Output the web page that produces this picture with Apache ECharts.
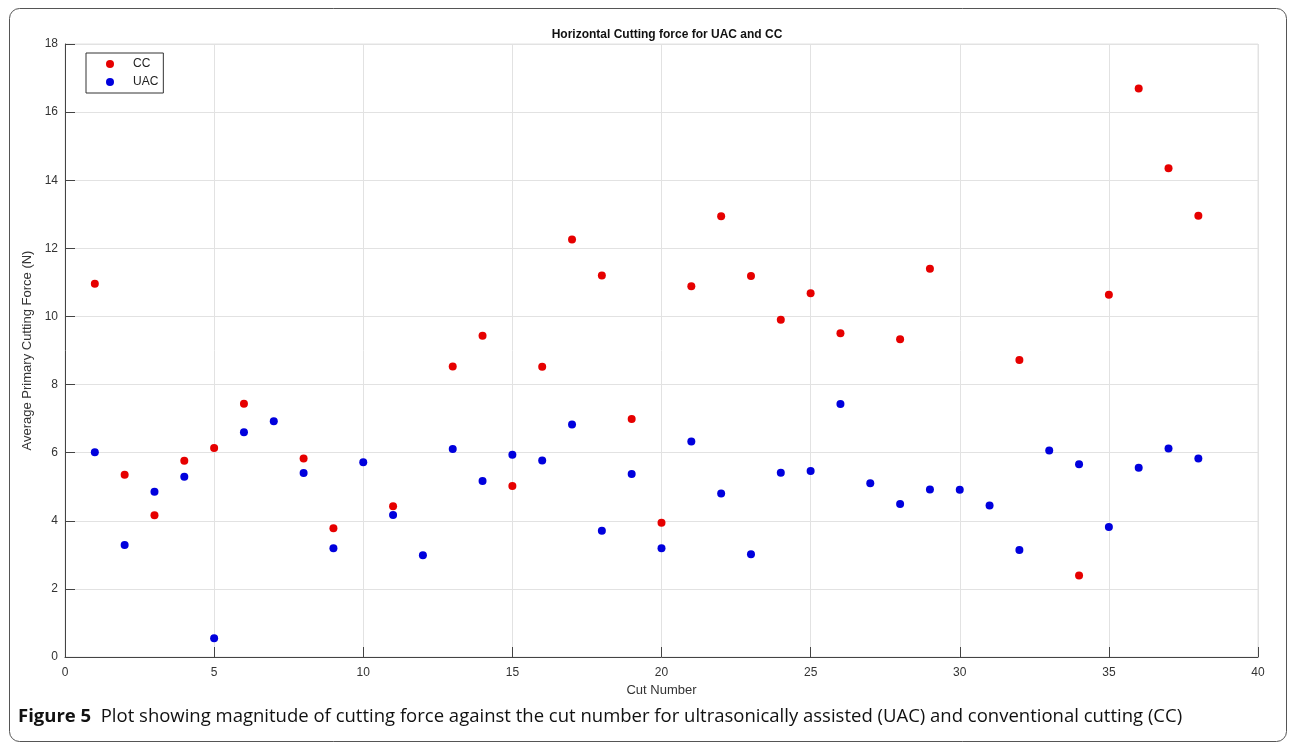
<!DOCTYPE html>
<html>
<head>
<meta charset="utf-8">
<script src="https://cdn.jsdelivr.net/npm/echarts@6/dist/echarts.min.js"></script>
<style>
  html, body { margin: 0; padding: 0; background: #fff; }
  #main { width: 1290px; height: 746px; }
</style>
</head>
<body>
<div id="main"></div>
<script>
// cut numbers and forces
var ccCuts = [1, 2, 3, 4, 5, 6, 8, 9, 11, 13, 14, 15, 16, 17, 18, 19, 20, 21, 22, 23, 24, 25, 26, 28, 29, 32, 34, 35, 36, 37, 38]
var ccForce = [10.96, 5.35, 4.16, 5.76, 6.14, 7.44, 5.83, 3.78, 4.43, 8.53, 9.43, 5.02, 8.52, 12.26, 11.20, 6.99, 3.94, 10.89, 12.94, 11.19, 9.90, 10.68, 9.51, 9.33, 11.40, 8.72, 2.39, 10.64, 16.69, 14.35, 12.96]
var uacCuts = [1, 2, 3, 4, 5, 6, 7, 8, 9, 10, 11, 12, 13, 14, 15, 16, 17, 18, 19, 20, 21, 22, 23, 24, 25, 26, 27, 28, 29, 30, 31, 32, 33, 34, 35, 36, 37, 38]
var uacForce = [6.01, 3.29, 4.85, 5.29, 0.55, 6.60, 6.92, 5.40, 3.19, 5.72, 4.17, 2.99, 6.11, 5.17, 5.94, 5.77, 6.83, 3.71, 5.37, 3.19, 6.33, 4.80, 3.02, 5.41, 5.46, 7.43, 5.10, 4.49, 4.92, 4.91, 4.45, 3.14, 6.06, 5.66, 3.82, 5.56, 6.12, 5.83]

var chartTitle = 'Horizontal Cutting force for UAC and CC'
var captionText = 'Plot showing magnitude of cutting force against the cut number for ultrasonically assisted (UAC) and conventional cutting (CC)'

function pairs (xs, ys) {
  return xs.map(function (x, i) {
    return [x, ys[i]]
  })
}

var myChart = echarts.init(document.getElementById('main'))
var axisFont = 'Liberation Sans, Arial, sans-serif'

var option = {
  animation: false,
  backgroundColor: '#fff',
  title: {
    text: chartTitle,
    left: 662,
    top: 24,
    textAlign: 'center',
    textStyle: { fontFamily: axisFont, fontSize: 12, fontWeight: 'bold', color: '#111' }
  },
  legend: {
    left: 86,
    top: 53,
    orient: 'vertical',
    itemWidth: 8,
    itemHeight: 8,
    itemGap: 6,
    padding: [5, 5, 5, 20],
    borderColor: '#333',
    borderWidth: 1,
    backgroundColor: '#fff',
    textStyle: { fontFamily: axisFont, fontSize: 12, color: '#222', padding: [0, 0, 0, 14] },
    data: ['CC', 'UAC']
  },
  grid: {
    left: 65,
    right: 32,
    top: 44,
    bottom: 89,
    show: true,
    borderColor: '#e2e2e2',
    borderWidth: 1
  },
  xAxis: {
    type: 'value',
    min: 0,
    max: 40,
    interval: 5,
    name: 'Cut Number',
    nameLocation: 'middle',
    nameGap: 27,
    nameTextStyle: { fontFamily: axisFont, fontSize: 13, color: '#333' },
    axisLine: { show: true, onZero: false, lineStyle: { color: '#444', width: 1 } },
    axisTick: { show: true, inside: true, length: 10, lineStyle: { color: '#444' } },
    axisLabel: { fontFamily: axisFont, fontSize: 12, color: '#333', margin: 10 },
    splitLine: { show: true, lineStyle: { color: '#e2e2e2', width: 1 } }
  },
  yAxis: {
    type: 'value',
    min: 0,
    max: 18,
    interval: 2,
    name: 'Average Primary Cutting Force (N)',
    nameLocation: 'middle',
    nameGap: 10,
    nameTextStyle: { fontFamily: axisFont, fontSize: 13, color: '#333' },
    axisLine: { show: true, lineStyle: { color: '#444', width: 1 } },
    axisTick: { show: true, inside: true, length: 10, lineStyle: { color: '#444' } },
    axisLabel: { fontFamily: axisFont, fontSize: 12, color: '#333', margin: 7 },
    splitLine: { show: true, lineStyle: { color: '#e2e2e2', width: 1 } }
  },
  series: [
    {
      name: 'CC',
      type: 'scatter',
      symbol: 'circle',
      symbolSize: 8,
      itemStyle: { color: '#e60000', opacity: 1 },
      data: pairs(ccCuts, ccForce)
    },
    {
      name: 'UAC',
      type: 'scatter',
      symbol: 'circle',
      symbolSize: 8,
      itemStyle: { color: '#0000dd', opacity: 1 },
      data: pairs(uacCuts, uacForce)
    }
  ],
  graphic: [
    // rounded frame round the figure
    {
      type: 'rect',
      left: 7,
      top: 6,
      shape: { width: 1277, height: 733, r: 10 },
      style: { fill: 'none', stroke: '#555', lineWidth: 1 },
      silent: true,
      z: -1
    },
    // caption
    {
      type: 'text',
      left: 18,
      top: 707,
      style: {
        text: '{b|Figure 5}  ' + captionText,
        rich: {
          b: { fontFamily: 'Open Sans, Noto Sans, sans-serif', fontSize: 18.5, fontWeight: 'bold', fill: '#111' }
        },
        fontFamily: 'Open Sans, Noto Sans, sans-serif',
        fontSize: 18.5,
        fill: '#111'
      }
    }
  ]
}

myChart.setOption(option)
</script>
</body>
</html>
